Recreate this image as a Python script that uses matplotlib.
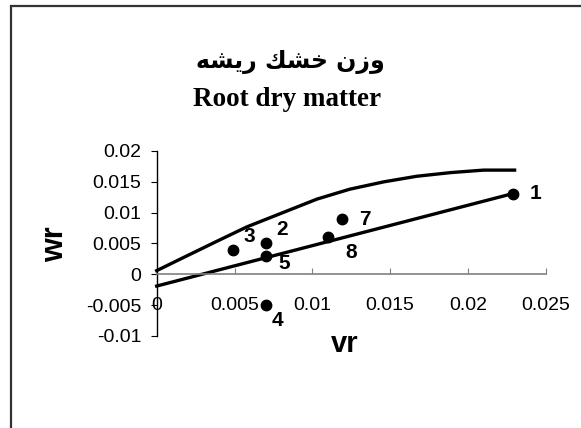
import matplotlib
matplotlib.use('Agg')
import matplotlib.pyplot as plt
from matplotlib.patches import Rectangle

# Data
vr = [0.0229, 0.0070, 0.0049, 0.0070, 0.0070, 0.0119, 0.0110]
wr = [0.0131, 0.0051, 0.0040, -0.0050, 0.0030, 0.0089, 0.0060]
point_labels = ['1', '2', '3', '4', '5', '7', '8']
label_offsets = [(22, 0), (16, -13), (16, -13), (12, 15), (19, 8), (23, 0), (23, 15)]

reg_x = [0.0, 0.0229]
reg_y = [-0.0019, 0.0131]

curve_x = [0.0, 0.0017, 0.0039, 0.0058, 0.0081, 0.0103, 0.0124, 0.0146,
           0.0167, 0.0189, 0.0210, 0.0230]
curve_y = [0.0006, 0.0027, 0.0054, 0.0077, 0.0100, 0.0122, 0.0138, 0.0150,
           0.0159, 0.0165, 0.0169, 0.0169]

title_fa = '\uFEEA\uFEB8\uFEF3\uFEAD \uFEDA\uFEB8\uFEA7 \uFEE5\uFEAF\uFEED'
title_en = 'Root dry matter'

plt.rcParams['font.family'] = ['Liberation Sans', 'DejaVu Sans']

W, H = 581, 428
fig = plt.figure(figsize=(W / 100, H / 100), dpi=100)

# chart area border (left and top visible)
fig.patches.append(Rectangle((11 / W, -0.1), 1.2, (H - 6) / H + 0.1, transform=fig.transFigure,
                             fill=False, edgecolor='#333333', linewidth=1.6))

ax = fig.add_axes([156.7 / W, 1 - 336 / H, (545.7 - 156.7) / W, (336 - 151) / H])
ax.set_xlim(0, 0.025)
ax.set_ylim(-0.01, 0.02)

ax.plot(curve_x, curve_y, color='black', linewidth=2.4, clip_on=False)
ax.plot(reg_x, reg_y, color='black', linewidth=2.4, clip_on=False)
ax.plot(vr, wr, 'o', color='black', markersize=7.5, clip_on=False)

for x, y, t, (dx, dy) in zip(vr, wr, point_labels, label_offsets):
    ax.annotate(t, (x, y), xytext=(dx * 0.72, -dy * 0.72), textcoords='offset points',
                ha='center', va='center', fontsize=15, fontweight='bold')

ax.spines['top'].set_visible(False)
ax.spines['right'].set_visible(False)
ax.spines['bottom'].set_position(('data', 0))
ax.spines['bottom'].set_color('#808080')
ax.spines['bottom'].set_linewidth(1.2)
ax.spines['left'].set_linewidth(1.0)

ax.set_xticks([0, 0.005, 0.01, 0.015, 0.02, 0.025])
ax.set_xticklabels(['0', '0.005', '0.01', '0.015', '0.02', '0.025'])
ax.set_yticks([-0.01, -0.005, 0, 0.005, 0.01, 0.015, 0.02])
ax.set_yticklabels(['-0.01', '-0.005', '0', '0.005', '0.01', '0.015', '0.02'])
ax.tick_params(axis='x', direction='in', length=4, color='#808080', pad=16.5, labelsize=14)
ax.tick_params(axis='y', direction='out', length=4, pad=7, labelsize=14)
ax.patch.set_alpha(0)

fig.text(55 / W, 1 - 244 / H, 'wr', rotation=90, ha='center', va='center',
         fontsize=22, fontweight='bold')
fig.text(344.7 / W, 1 - 344 / H, 'vr', ha='center', va='center',
         fontsize=21, fontweight='bold')

fig.text(290 / W, 1 - 62 / H, title_fa, ha='center', va='center', fontsize=17,
         fontweight='bold', family=['DejaVu Sans'])
fig.text(287 / W, 1 - 100 / H, title_en, ha='center', va='center', fontsize=19.5,
         fontweight='bold', family=['Liberation Serif'])

fig.savefig('out.png', dpi=100)
